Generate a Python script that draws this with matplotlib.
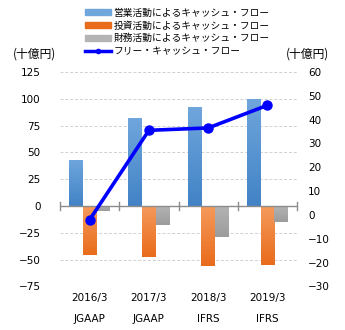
import matplotlib
matplotlib.use("Agg")
import matplotlib.pyplot as plt
import numpy as np
from matplotlib.colors import LinearSegmentedColormap

plt.rcParams['font.family'] = ['Noto Sans CJK JP', 'DejaVu Sans']

years = ["2016/3", "2017/3", "2018/3", "2019/3"]
standards = ["JGAAP", "JGAAP", "IFRS", "IFRS"]
operating = [43, 82, 92, 100]
investing = [-46, -48, -56, -55]
financing = [-5, -18, -29, -15]
free_cf = [-2, 35.5, 36.5, 46]
series_names = ["営業活動によるキャッシュ・フロー", "投資活動によるキャッシュ・フロー",
                "財務活動によるキャッシュ・フロー", "フリー・キャッシュ・フロー"]
left_ticks = [125, 100, 75, 50, 25, 0, -25, -50, -75]
right_ticks = [60, 50, 40, 30, 20, 10, 0, -10, -20, -30]

fig = plt.figure(figsize=(3.45, 3.30), dpi=100)
ax = fig.add_axes([0.174, 0.132, 0.687, 0.650])
ax2 = ax.twinx()

x = np.arange(len(years))
w = 0.23
grads = [("#6fa6dc", "#4283c6"), ("#f59a5c", "#e96c1c"), ("#b4b4b4", "#9c9c9c")]
series = [operating, investing, financing]
for i, (vals, (c_top, c_bot)) in enumerate(zip(series, grads)):
    bars = ax.bar(x + (i - 1) * w, vals, w, color=c_bot, linewidth=0, zorder=2)
    cmap = LinearSegmentedColormap.from_list("g%d" % i, [c_bot, c_top])
    for b in bars:
        bx, by = b.get_x(), b.get_y()
        bw, bh = b.get_width(), b.get_height()
        y0, y1 = min(by, by + bh), max(by, by + bh)
        grad = np.linspace(0, 1, 64).reshape(-1, 1)
        im = ax.imshow(grad, cmap=cmap, aspect='auto', origin='lower',
                       extent=[bx, bx + bw, y0, y1], zorder=2.1)
        im.set_clip_path(b)

ax.set_xlim(-0.5, 3.5)
ax.set_ylim(-75, 125)
ax.set_yticks(left_ticks)
for t in left_ticks:
    if t != 0:
        ax.axhline(t, color="#d0d0d0", lw=0.7, ls=(0, (3, 2)), zorder=0)
ax.axhline(0, color="#8c8c8c", lw=1.0, zorder=3)
for b in np.arange(-0.5, 4.0, 1.0):
    ax.plot([b, b], [-3.5, 3.5], color="#8c8c8c", lw=1.0, zorder=3, clip_on=False)

ax.set_xticks(x)
ax.set_xticklabels([f"{y}\n\n{s}" for y, s in zip(years, standards)], fontsize=7.5,
                   linespacing=1.05, family='DejaVu Sans')
ax.tick_params(axis='x', length=0, pad=5)
ax.tick_params(axis='y', length=0, labelsize=7.5, pad=14)
for lbl in ax.get_yticklabels():
    lbl.set_family('DejaVu Sans')

ax2.plot(x, free_cf, color="#0000ff", lw=2.6, marker='o', markersize=6.5, zorder=5)
ax2.set_ylim(-30, 60)
ax2.set_yticks(right_ticks)
ax2.tick_params(axis='y', length=0, labelsize=7.5, pad=8)
for lbl in ax2.get_yticklabels():
    lbl.set_family('DejaVu Sans')
ax.set_zorder(ax2.get_zorder() - 1)
ax.patch.set_visible(True)
ax2.patch.set_visible(False)

for a in (ax, ax2):
    for s in a.spines.values():
        s.set_visible(False)

fig.text(0.036, 0.836, "(十億円)", fontsize=8.5, ha='left', va='center')
fig.text(0.830, 0.836, "(十億円)", fontsize=8.5, ha='left', va='center')

# legend
handles = [plt.Rectangle((0, 0), 1, 1, color=grads[0][0]),
           plt.Rectangle((0, 0), 1, 1, color=grads[1][1]),
           plt.Rectangle((0, 0), 1, 1, color=grads[2][0]),
           plt.Line2D([], [], color="#0000ff", lw=2.5, marker='o', markersize=3)]
fig.legend(handles, series_names, loc='upper left', bbox_to_anchor=(0.225, 1.0),
           frameon=False, fontsize=7, handlelength=2.6, handleheight=0.6,
           labelspacing=0.28, handletextpad=0.3, borderpad=0.3)

fig.savefig("out.png", dpi=100)
